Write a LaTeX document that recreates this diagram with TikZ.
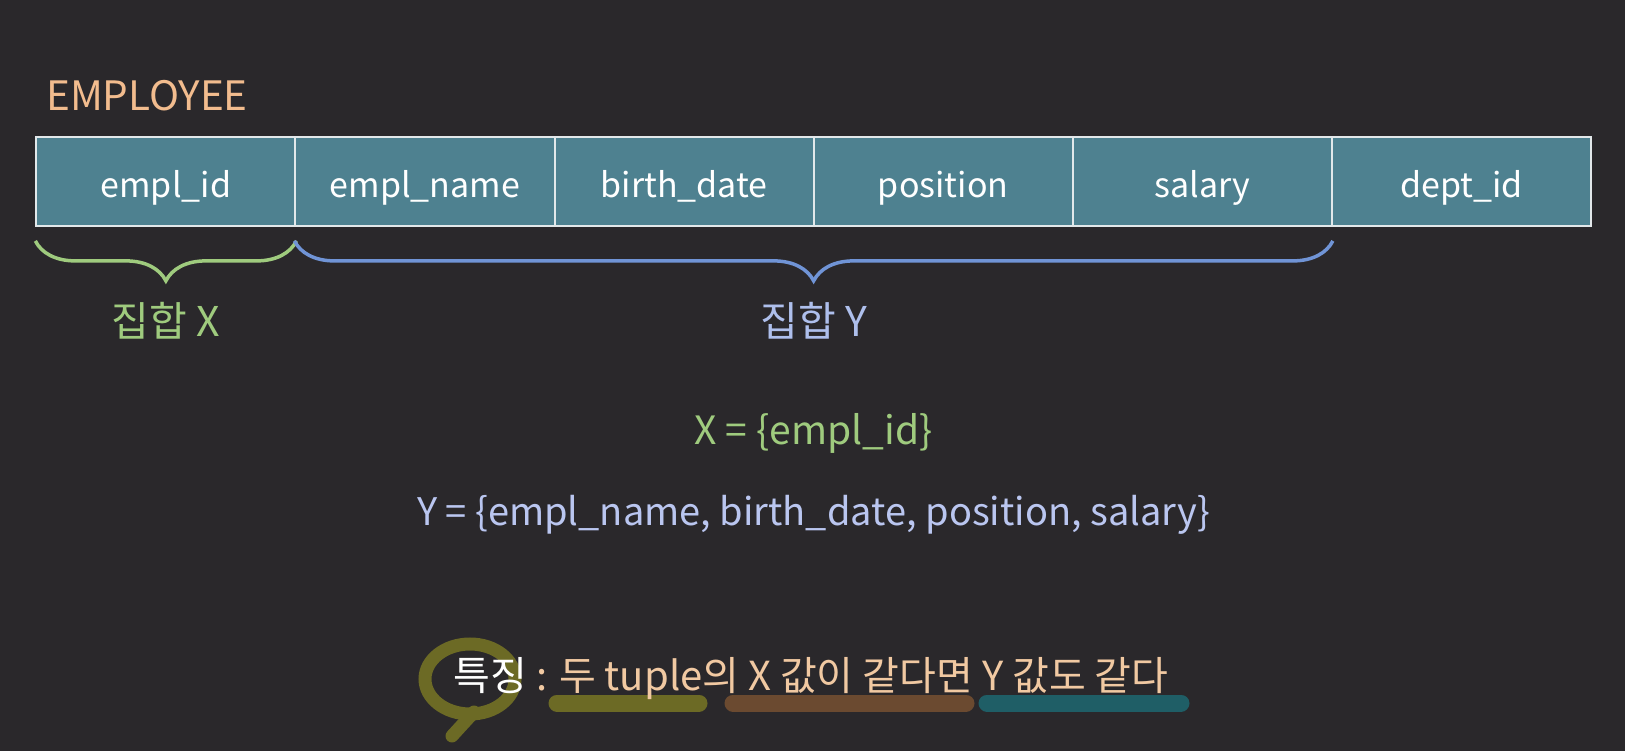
\documentclass[tikz,border=0pt]{standalone}
\usepackage{fontspec}
\setmainfont{Noto Sans CJK KR}
\usetikzlibrary{decorations.pathreplacing}

\definecolor{bgdark}{HTML}{2A282B}
\definecolor{tablefill}{HTML}{4E8190}
\definecolor{tableline}{HTML}{E2E8EA}
\definecolor{titlepeach}{HTML}{F2BC8E}
\definecolor{setgreen}{HTML}{9FCB7E}
\definecolor{setblue}{HTML}{7094D6}
\definecolor{setbluetext}{HTML}{AEBFEC}
\definecolor{ylav}{HTML}{BAC6F0}
\definecolor{notepeach}{HTML}{F1C9A2}
\definecolor{markolive}{HTML}{6C6A25}
\definecolor{markbrown}{HTML}{6B4A30}
\definecolor{markteal}{HTML}{1F5E66}

\begin{document}
\begin{tikzpicture}[x=1pt, y=-1pt,
    cell/.style={draw=tableline, line width=2pt, fill=tablefill, text=white,
      minimum width=259.1pt, minimum height=89pt, inner sep=0pt,
      text height=36pt, text depth=4pt,
      font=\fontsize{34}{40}\selectfont},
    bracestroke/.style={line width=3.5pt, decorate,
      decoration={brace, mirror, amplitude=40pt}},
    bigtext/.style={font=\fontsize{38}{44}\selectfont, inner sep=0pt},
    korlabel/.style={font=\fontsize{41}{48}\selectfont, inner sep=0pt},
    marker/.style={line width=17pt, line cap=round}]
    % background
    \fill[bgdark] (0,0) rectangle (1625,751);

    % Table name
    \node[bigtext, font=\fontsize{40.5}{46}\selectfont, text=titlepeach, anchor=west] (title) at (46,96) {EMPLOYEE};

    % EMPLOYEE columns
    \node[cell] (emplid) at (165.9,181.4) {empl\_id};
    \node[cell] (emplname) at (425.0,181.4) {empl\_name};
    \node[cell] (birth) at (684.1,181.4) {birth\_date};
    \node[cell] (position) at (943.2,181.4) {position};
    \node[cell] (salary) at (1202.3,181.4) {salary};
    \node[cell] (deptid) at (1461.4,181.4) {dept\_id};

    % Braces
    \draw[setgreen, bracestroke] ([yshift=-14pt]emplid.south west) -- ([yshift=-14pt]emplid.south east);
    \draw[setblue, bracestroke] ([yshift=-14pt]emplname.south west) -- ([yshift=-14pt]salary.south east);
    \node[korlabel, text=setgreen] (setx) at (166,321) {집합 X};
    \node[korlabel, text=setbluetext] (sety) at (813.6,321) {집합 Y};

    % Sets
    \node[bigtext, font=\fontsize{39}{45}\selectfont, text=setgreen] (xdef) at (813.6,433) {X = \{empl\_id\}};
    \node[bigtext, text=ylav] (ydef) at (813.6,515) {Y = \{empl\_name, birth\_date, position, salary\}};

    % Highlights
    \draw[markolive, marker] (557,703) -- (699,703);
    \draw[markbrown, marker] (733,703) -- (966,703);
    \draw[markteal, marker] (987,703) -- (1181,703);
    \draw[markolive, line width=13pt] (470,679) ellipse [x radius=45pt, y radius=35pt];
    \draw[markolive, line width=13pt, line cap=round] (474,712) -- (452,736);

    % Feature
    \node[bigtext, font=\fontsize{40}{46}\selectfont, text=notepeach] (feature) at (811,679) {{\color{white}특징} : 두 tuple의 X 값이 같다면 Y 값도 같다};
\end{tikzpicture}
\end{document}
